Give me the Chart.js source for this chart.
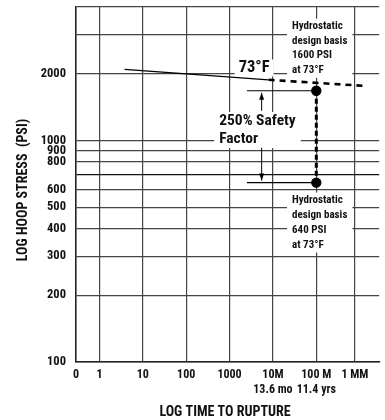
<!DOCTYPE html>
<html>
<head>
  <meta charset="utf-8">
  <title>Log hoop stress vs log time to rupture</title>
  <script src="https://cdn.jsdelivr.net/npm/chart.js"></script>
  <style>
    body { margin: 0; background: #fff; }
    canvas { display: block; }
  </style>
</head>
<body>
  <canvas id="chart" width="385" height="420"></canvas>

  <script>
    // x axis works in decades of hours; "0" sits a bit left of 1 hour
    const xTickPos = [-0.54, 0, 1, 2, 3, 4, 5, 5.89];
    const xTickLabels = ['0', '1', '10', '100', '1000', ['10M', '13.6 mo'], ['100 M', '11.4 yrs'], '1 MM'];
    const yGrid = [100, 200, 300, 400, 500, 600, 700, 800, 900, 1000, 2000, 3000, 4000];
    const yLabelled = [100, 200, 300, 400, 500, 600, 800, 900, 1000, 2000];

    // regression line at 73F, solid then extrapolated
    const trendSolid = [{x: 0.58, y: 2090}, {x: 3.9, y: 1877}];
    const trendDashed = [{x: 3.9, y: 1877}, {x: 6.07, y: 1764}];
    // hydrostatic design basis points at 100 000 h
    const hdbX = 5;
    const hdbUpper = 1675;
    const hdbLower = 645;
    const levelStartX = 3.4;

    // safety factor arrows: [x, tail, tip]
    const arrows = [[3.74, 1361, 1675], [3.74, 927, 645]];

    // text notes: x = left edge, y = first line centre (data units)
    const notes = [
      {x: 3.21, y: 2122, lines: ['73°F'], size: 16.5, lh: 17, pad: 4},
      {x: 2.76, y: 1223, lines: ['250% Safety', 'Factor'], size: 15.5, lh: 18, pad: 5},
      {x: 4.44, y: 3282, lines: ['Hydrostatic', 'design basis', '1600 PSI', 'at 73°F'], size: 11, lh: 14.8, pad: 5},
      {x: 4.44, y: 538, lines: ['Hydrostatic', 'design basis', '640 PSI', 'at 73°F'], size: 11, lh: 15, pad: 5}
    ];

    const FONT = "'Roboto Condensed', 'Liberation Sans Narrow', 'Liberation Sans', Arial, sans-serif";

    const notesPlugin = {
      id: 'notes',
      beforeDatasetsDraw(chart) {
        const ctx = chart.ctx;
        const xs = chart.scales.x, ys = chart.scales.y;
        ctx.save();
        notes.forEach(n => {
          ctx.font = 'bold ' + n.size + 'px ' + FONT;
          const w = Math.max(...n.lines.map(l => ctx.measureText(l).width));
          const left = xs.getPixelForValue(n.x);
          const top = ys.getPixelForValue(n.y) - n.lh / 2;
          ctx.fillStyle = '#fff';
          ctx.fillRect(left - n.pad, top, w + n.pad * 2, n.lh * n.lines.length);
          ctx.fillStyle = '#111';
          ctx.textBaseline = 'middle';
          ctx.textAlign = 'left';
          n.lines.forEach((l, i) => ctx.fillText(l, left, top + n.lh / 2 + i * n.lh));
        });
        ctx.restore();
      },
      afterDatasetsDraw(chart) {
        const ctx = chart.ctx;
        const xs = chart.scales.x, ys = chart.scales.y;
        ctx.save();
        ctx.strokeStyle = '#000';
        ctx.fillStyle = '#000';
        ctx.lineWidth = 1;
        arrows.forEach(a => {
          const x = xs.getPixelForValue(a[0]);
          const y0 = ys.getPixelForValue(a[1]);
          const y1 = ys.getPixelForValue(a[2]);
          const dir = y1 > y0 ? 1 : -1;
          const tip = y1 - dir * 2;
          ctx.beginPath();
          ctx.moveTo(x, y0);
          ctx.lineTo(x, tip);
          ctx.stroke();
          ctx.beginPath();
          ctx.moveTo(x, tip);
          ctx.lineTo(x - 2.5, tip - dir * 7);
          ctx.lineTo(x + 2.5, tip - dir * 7);
          ctx.closePath();
          ctx.fill();
        });

        // axis titles
        ctx.fillStyle = '#111';
        ctx.font = 'bold 14px ' + FONT;
        ctx.textAlign = 'center';
        ctx.textBaseline = 'middle';
        ctx.fillText('LOG TIME TO RUPTURE', 225, 412);
        ctx.translate(23, 190);
        ctx.rotate(-Math.PI / 2);
        ctx.fillText('LOG HOOP STRESS  (PSI)', 0, 0);
        ctx.restore();
      }
    };

    const lineDs = (data, extra) => Object.assign({
      data: data,
      showLine: true,
      borderColor: '#000',
      backgroundColor: '#000',
      borderWidth: 1.2,
      pointRadius: 0,
      fill: false
    }, extra);

    new Chart(document.getElementById('chart'), {
      type: 'scatter',
      data: {
        datasets: [
          lineDs(trendSolid),
          lineDs(trendDashed, {borderWidth: 2.6, borderDash: [6, 5]}),
          lineDs([{x: hdbX, y: hdbUpper}, {x: hdbX, y: hdbLower}], {borderWidth: 3, borderDash: [5, 3]}),
          lineDs([{x: levelStartX, y: hdbUpper}, {x: hdbX, y: hdbUpper}]),
          lineDs([{x: levelStartX, y: hdbLower}, {x: hdbX, y: hdbLower}]),
          lineDs([{x: hdbX, y: hdbUpper}, {x: hdbX, y: hdbLower}], {showLine: false, pointRadius: 4.6})
        ]
      },
      options: {
        responsive: false,
        animation: false,
        layout: {padding: {top: 7, right: 0, left: 0, bottom: 0}},
        plugins: {legend: {display: false}, tooltip: {enabled: false}},
        scales: {
          x: {
            type: 'linear',
            min: xTickPos[0],
            max: 6.45,
            afterBuildTicks: s => { s.ticks = xTickPos.map(v => ({value: v})); },
            afterFit: s => { s.height = 58; s.paddingLeft = 0; s.paddingRight = 0; },
            grid: {color: '#444', lineWidth: 1.2, drawTicks: false},
            border: {color: '#222', width: 1.5},
            ticks: {
              autoSkip: false,
              maxRotation: 0,
              padding: 5.5,
              color: '#111',
              font: {family: FONT, size: 12, weight: 'bold', lineHeight: 1.25},
              callback: (v, i) => xTickLabels[i]
            }
          },
          y: {
            type: 'logarithmic',
            min: 100,
            max: 4000,
            afterBuildTicks: s => { s.ticks = yGrid.map(v => ({value: v})); },
            afterFit: s => { s.width = 76; s.paddingTop = 0; s.paddingBottom = 0; },
            grid: {
              color: c => (c.tick && c.tick.value === 700) ? '#111' : '#444',
              lineWidth: 1.2,
              drawTicks: false
            },
            border: {color: '#222', width: 1.5},
            ticks: {
              autoSkip: false,
              padding: 10,
              color: '#111',
              font: {family: FONT, size: 12.5, weight: 'bold'},
              callback: v => yLabelled.includes(v) ? String(v) : ''
            }
          }
        }
      },
      plugins: [notesPlugin]
    });
  </script>
</body>
</html>
